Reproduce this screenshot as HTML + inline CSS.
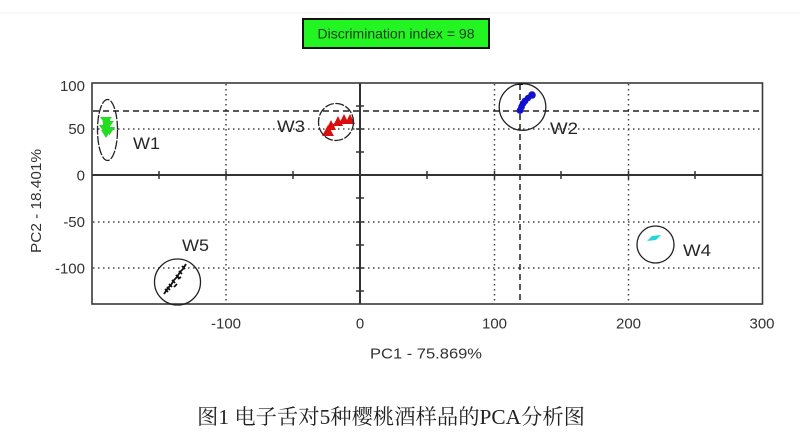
<!DOCTYPE html>
<html>
<head>
<meta charset="utf-8">
<style>
  html,body{margin:0;padding:0;background:#fff;}
  body{width:800px;height:438px;overflow:hidden;position:relative;}
  svg{position:absolute;left:0;top:0;}
  .t{font-family:"Liberation Sans",sans-serif;fill:#333;}
  .cap{font-family:"Liberation Serif","Noto Serif CJK SC",serif;fill:#222;}
</style>
</head>
<body>
<svg width="800" height="438" viewBox="0 0 800 438" xmlns="http://www.w3.org/2000/svg">
  <line x1="0" y1="13" x2="800" y2="13" stroke="#f0f0f0" stroke-width="1"/>

  <!-- discrimination box -->
  <rect x="303" y="19" width="186" height="29" fill="#22f522" stroke="#111" stroke-width="2"/>
  <text class="t" x="396" y="38.5" font-size="14" text-anchor="middle" textLength="157" lengthAdjust="spacingAndGlyphs" style="fill:#1c3a1c">Discrimination index = 98</text>

  <!-- dotted grid -->
  <g stroke="#444" stroke-width="1.5" stroke-dasharray="1.5 3.5" fill="none">
    <line x1="226" y1="84" x2="226" y2="303"/>
    <line x1="494.5" y1="84" x2="494.5" y2="303"/>
    <line x1="628.5" y1="84" x2="628.5" y2="303"/>
    <line x1="93" y1="129" x2="762" y2="129"/>
    <line x1="93" y1="222" x2="762" y2="222"/>
    <line x1="93" y1="268" x2="762" y2="268"/>
  </g>

  <!-- dashed lines -->
  <g stroke="#222" stroke-width="1.5" stroke-dasharray="6 4" fill="none">
    <line x1="93" y1="111" x2="762" y2="111"/>
    <line x1="520" y1="84" x2="520" y2="303"/>
  </g>
  <line x1="517" y1="84" x2="523" y2="84" stroke="#000" stroke-width="2"/>

  <!-- zero axes -->
  <line x1="360" y1="83" x2="360" y2="304" stroke="#333" stroke-width="2"/>
  <line x1="92" y1="175" x2="762" y2="175" stroke="#333" stroke-width="2"/>
  <g stroke="#333" stroke-width="1.5">
    <line x1="159" y1="171" x2="159" y2="179"/>
    <line x1="293" y1="171" x2="293" y2="179"/>
    <line x1="427" y1="171" x2="427" y2="179"/>
    <line x1="561" y1="171" x2="561" y2="179"/>
    <line x1="695" y1="171" x2="695" y2="179"/>
    <line x1="226" y1="171" x2="226" y2="179"/>
    <line x1="494.5" y1="171" x2="494.5" y2="179"/>
    <line x1="628.5" y1="171" x2="628.5" y2="179"/>
    <line x1="356" y1="106" x2="364" y2="106"/>
    <line x1="356" y1="129" x2="364" y2="129"/>
    <line x1="356" y1="152" x2="364" y2="152"/>
    <line x1="356" y1="198" x2="364" y2="198"/>
    <line x1="356" y1="222" x2="364" y2="222"/>
    <line x1="356" y1="245" x2="364" y2="245"/>
    <line x1="356" y1="268" x2="364" y2="268"/>
    <line x1="356" y1="291" x2="364" y2="291"/>
  </g>

  <!-- frame -->
  <rect x="92" y="83" width="670.5" height="221" fill="none" stroke="#3a3a3a" stroke-width="1.6"/>

  <!-- W1 green -->
  <g fill="#22dd22">
    <polygon points="100,117 112,117 106,125"/>
    <polygon points="102,121 114,121 108,129"/>
    <polygon points="99,125 110,125 104.5,133"/>
    <polygon points="104,127 115,127 109.5,135"/>
    <polygon points="101,130 111,130 106,138"/>
    <rect x="103" y="120" width="7" height="10"/>
  </g>
  <ellipse cx="107.5" cy="130" rx="10" ry="30.5" fill="none" stroke="#222" stroke-width="1.3" stroke-dasharray="9 1.5"/>

  <!-- W3 red -->
  <g fill="#d80f0f">
    <polyline points="328,132 331,127 337,123 344,121 350,121" fill="none" stroke="#d80f0f" stroke-width="2.5"/>
    <polygon points="328,125 322,136 334,136"/>
    <polygon points="331,120 326,130 336,130"/>
    <polygon points="338,116 333,126 343,126"/>
    <polygon points="344,114 339,124 349,124"/>
    <polygon points="350,114 345,124 355,124"/>
  </g>
  <ellipse cx="336" cy="122" rx="17.5" ry="18.5" fill="none" stroke="#222" stroke-width="1.3" stroke-dasharray="9 1.5"/>

  <!-- W2 blue -->
  <g fill="#1010d0">
    <polyline points="520,111 522,106 524,102 527,99 531,96" fill="none" stroke="#1010d0" stroke-width="4.5"/>
    <circle cx="520" cy="110.5" r="3.4"/>
    <circle cx="521.5" cy="107" r="3.4"/>
    <circle cx="523" cy="103.5" r="3.4"/>
    <circle cx="525" cy="101" r="3.4"/>
    <circle cx="528" cy="98" r="3.2"/>
    <circle cx="532" cy="95" r="3.8"/>
  </g>
  <circle cx="522.5" cy="107" r="23.3" fill="none" stroke="#222" stroke-width="1.3"/>

  <!-- W4 cyan -->
  <polygon points="647,241 652,236 661,235 656,240" fill="#22d8d8"/>
  <circle cx="655.5" cy="244.5" r="18.5" fill="none" stroke="#222" stroke-width="1.3"/>

  <!-- W5 black -->
  <g stroke="#111" stroke-width="1.8" fill="none">
    <polyline points="164,294 168,288 171,285 174,280 177,277 180,272 183,269 186,264"/>
    <path d="M165,289 l3,3 M169,284 l3,3 M172,280 l3,3 M176,275 l3,3 M179,271 l3,3 M182,266 l3,3 M170,290 l-3,-3 M178,279 l3,-2 M174,287 l3,-3"/>
  </g>
  <circle cx="177.5" cy="282" r="23" fill="none" stroke="#222" stroke-width="1.3"/>

  <!-- cluster labels -->
  <g class="t" font-size="17" style="fill:#262626">
    <text x="133" y="149" textLength="27" lengthAdjust="spacingAndGlyphs">W1</text>
    <text x="277" y="132" textLength="28" lengthAdjust="spacingAndGlyphs">W3</text>
    <text x="550" y="134" textLength="28" lengthAdjust="spacingAndGlyphs">W2</text>
    <text x="182" y="251" textLength="27" lengthAdjust="spacingAndGlyphs">W5</text>
    <text x="683" y="256" textLength="28" lengthAdjust="spacingAndGlyphs">W4</text>
  </g>

  <!-- y tick labels -->
  <g class="t" font-size="15" text-anchor="end">
    <text x="85" y="91">100</text>
    <text x="85" y="134">50</text>
    <text x="85" y="180.5">0</text>
    <text x="85" y="227">-50</text>
    <text x="85" y="273.5">-100</text>
  </g>
  <!-- x tick labels -->
  <g class="t" font-size="15" text-anchor="middle">
    <text x="226" y="328.5">-100</text>
    <text x="360" y="328.5">0</text>
    <text x="494.5" y="328.5">100</text>
    <text x="628.5" y="328.5">200</text>
    <text x="762" y="328.5">300</text>
  </g>

  <!-- axis titles -->
  <text class="t" x="426" y="358.5" font-size="15" text-anchor="middle" textLength="112" lengthAdjust="spacingAndGlyphs">PC1 - 75.869%</text>
  <text class="t" font-size="15" text-anchor="middle" transform="translate(41,201) rotate(-90)" textLength="104" lengthAdjust="spacingAndGlyphs">PC2 - 18.401%</text>

  <!-- caption -->
  <text class="cap" x="391" y="424" font-size="21" text-anchor="middle" textLength="388" lengthAdjust="spacingAndGlyphs">图1 电子舌对5种樱桃酒样品的PCA分析图</text>
</svg>
</body>
</html>
